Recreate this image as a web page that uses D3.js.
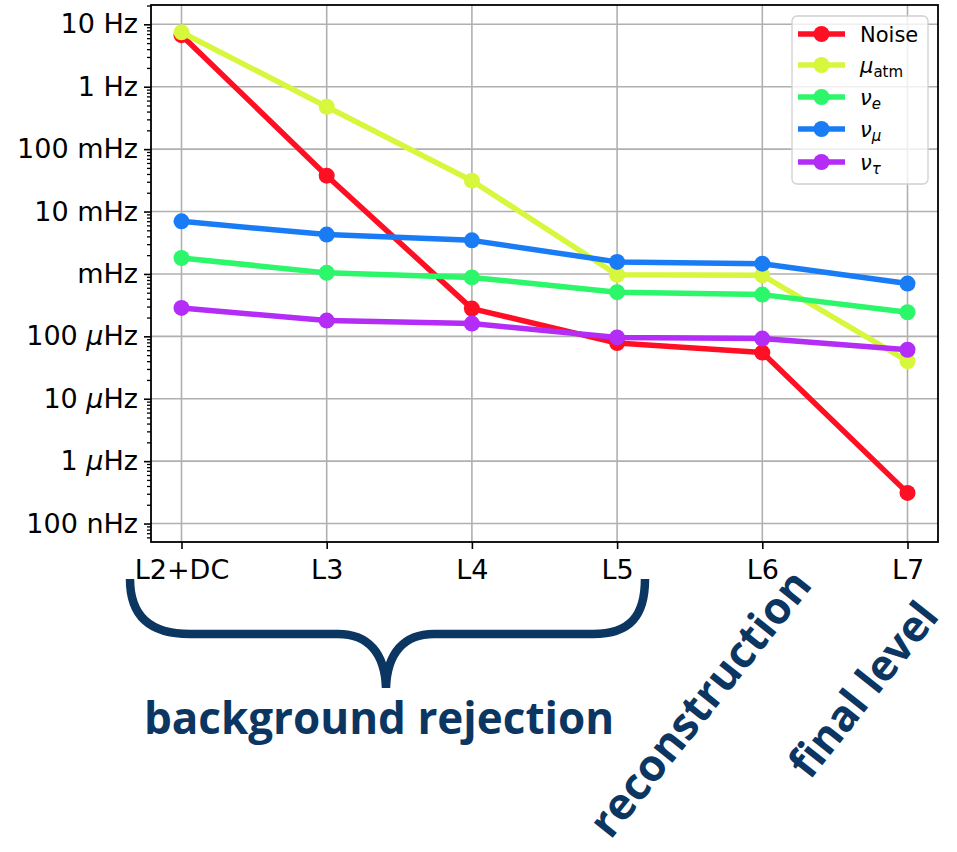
<!DOCTYPE html>
<html>
<head>
<meta charset="utf-8">
<title>Rates per level</title>
<script src="https://cdn.jsdelivr.net/npm/d3@7"></script>
<style>
  body { margin: 0; background: #fff; }
  svg { display: block; font-family: "DejaVu Sans", sans-serif; }
  .note { font-family: "Open Sans", sans-serif; font-weight: 700; fill: #0c3662; }
</style>
</head>
<body>
<script>
// data (rates in Hz)
const levels = ['L2+DC', 'L3', 'L4', 'L5', 'L6', 'L7'];
const noise = [6.7, 0.0375, 2.78e-4, 7.8e-5, 5.5e-5, 3.1e-7];
const muAtm = [7.45, 0.478, 0.0312, 9.7e-4, 9.5e-4, 4.0e-5];
const nuE = [1.80e-3, 1.04e-3, 8.8e-4, 5.1e-4, 4.66e-4, 2.43e-4];
const nuMu = [6.96e-3, 4.27e-3, 3.45e-3, 1.56e-3, 1.46e-3, 7.0e-4];
const nuTau = [2.85e-4, 1.79e-4, 1.60e-4, 9.6e-5, 9.2e-5, 6.1e-5];

const yTicks = [1e1, 1, 1e-1, 1e-2, 1e-3, 1e-4, 1e-5, 1e-6, 1e-7];
const yTickLabels = ['10 Hz', '1 Hz', '100 mHz', '10 mHz', 'mHz', '100 μHz', '10 μHz', '1 μHz', '100 nHz'];

const seriesNames = ['Noise', 'μatm', 'νe', 'νμ', 'ντ'];
const seriesColors = ['#ff0f24', '#d6f73c', '#2cf66a', '#1a7cf4', '#b32df6'];
const seriesValues = [noise, muAtm, nuE, nuMu, nuTau];

const W = 957, H = 852;
const plotL = 151, plotR = 938, plotT = 5, plotB = 542;

const svg = d3.select('body').append('svg')
  .attr('width', W)
  .attr('height', H);

const x = d3.scalePoint().domain(levels).range([plotL, plotR]).padding(0.21);
const y = d3.scaleLog().domain([5.06e-8, 20.4]).range([plotB, plotT]);

// grid
const grid = svg.append('g').attr('stroke', '#b0b0b0').attr('stroke-width', 1.6);
grid.selectAll('.gy').data(yTicks).enter().append('line')
  .attr('x1', plotL).attr('x2', plotR)
  .attr('y1', d => y(d)).attr('y2', d => y(d));
grid.selectAll('.gx').data(levels).enter().append('line')
  .attr('y1', plotT).attr('y2', plotB)
  .attr('x1', d => x(d)).attr('x2', d => x(d));

// minor ticks on the log axis
let minor = [];
for (let e = -8; e <= 1; e++) {
  for (let k = 2; k <= 9; k++) {
    let v = k * Math.pow(10, e);
    if (v > y.domain()[0] && v < y.domain()[1]) minor.push(v);
  }
}
svg.append('g')
  .attr('transform', `translate(${plotL},0)`)
  .call(d3.axisLeft(y).tickValues(minor).tickSize(4).tickFormat(''))
  .call(g => g.select('.domain').remove())
  .call(g => g.selectAll('line').attr('stroke', '#000').attr('stroke-width', 1.3));

// y axis
const yAxis = svg.append('g')
  .attr('transform', `translate(${plotL},0)`)
  .call(d3.axisLeft(y).tickValues(yTicks).tickSize(7).tickPadding(6)
    .tickFormat((d, i) => yTickLabels[i]));
yAxis.select('.domain').remove();
yAxis.selectAll('line').attr('stroke', '#000').attr('stroke-width', 1.6);
yAxis.selectAll('text')
  .attr('font-size', 27)
  .attr('font-family', '"DejaVu Sans", sans-serif')
  .attr('fill', '#000')
  .each(function(d, i) {
    let label = yTickLabels[i];
    if (label.indexOf('μ') < 0) return;
    let parts = label.split('μ');
    let t = d3.select(this).text(null);
    t.append('tspan').text(parts[0]);
    t.append('tspan').attr('font-style', 'italic').text('μ');
    t.append('tspan').text(parts[1]);
  });

// x axis
const xAxis = svg.append('g')
  .attr('transform', `translate(0,${plotB})`)
  .call(d3.axisBottom(x).tickSize(7).tickPadding(11));
xAxis.select('.domain').remove();
xAxis.selectAll('line').attr('stroke', '#000').attr('stroke-width', 1.6);
xAxis.selectAll('text')
  .attr('font-size', 27)
  .attr('font-family', '"DejaVu Sans", sans-serif')
  .attr('fill', '#000');

// series
const line = d3.line()
  .x((d, i) => x(levels[i]))
  .y(d => y(d));

seriesValues.forEach(function(values, s) {
  let g = svg.append('g');
  g.append('path')
    .datum(values)
    .attr('d', line)
    .attr('fill', 'none')
    .attr('stroke', seriesColors[s])
    .attr('stroke-width', 5.5)
    .attr('stroke-linejoin', 'round');
  g.selectAll('circle').data(values).enter().append('circle')
    .attr('cx', (d, i) => x(levels[i]))
    .attr('cy', d => y(d))
    .attr('r', 8)
    .attr('fill', seriesColors[s]);
});

// frame
svg.append('rect')
  .attr('x', plotL).attr('y', plotT)
  .attr('width', plotR - plotL).attr('height', plotB - plotT)
  .attr('fill', 'none')
  .attr('stroke', '#000')
  .attr('stroke-width', 1.8);

// legend
const legend = svg.append('g');
legend.append('rect')
  .attr('x', 792).attr('y', 16)
  .attr('width', 136).attr('height', 168)
  .attr('rx', 5)
  .attr('fill', '#fff').attr('fill-opacity', 0.8)
  .attr('stroke', '#d0d0d0').attr('stroke-width', 1.3);

const legendY = [34, 65, 97, 129, 162];
seriesNames.forEach(function(name, s) {
  let ly = legendY[s];
  legend.append('line')
    .attr('x1', 798).attr('x2', 845)
    .attr('y1', ly).attr('y2', ly)
    .attr('stroke', seriesColors[s]).attr('stroke-width', 5.5);
  legend.append('circle')
    .attr('cx', 821.5).attr('cy', ly).attr('r', 8)
    .attr('fill', seriesColors[s]);
  let t = legend.append('text')
    .attr('x', 860).attr('y', ly + 8)
    .attr('font-size', 21)
    .attr('fill', '#000');
  if (s === 0) {
    t.text(name);
  } else {
    // greek letter plus subscript, as mathtext draws it
    t.append('tspan').attr('font-style', 'italic').text(name[0]);
    t.append('tspan')
      .attr('font-size', 15)
      .attr('dy', 4)
      .attr('font-style', s === 1 ? 'normal' : 'italic')
      .text(name.slice(1));
  }
});

// annotations under the axis
svg.append('path')
  .attr('d', 'M130,579 C130,616 150,634 190,634 L338,634 C368,634 385,653 386,688 ' +
             'C387,653 404,634 434,634 L593,634 C630,634 645,616 645,579')
  .attr('fill', 'none')
  .attr('stroke', '#0c3662')
  .attr('stroke-width', 8.5);

svg.append('text')
  .attr('class', 'note')
  .attr('x', 379).attr('y', 734)
  .attr('text-anchor', 'middle')
  .attr('font-size', 44)
  .text('background rejection');

svg.append('text')
  .attr('class', 'note')
  .attr('text-anchor', 'middle')
  .attr('font-size', 44)
  .attr('transform', 'translate(712,713) rotate(-51.5)')
  .text('reconstruction');

svg.append('text')
  .attr('class', 'note')
  .attr('text-anchor', 'middle')
  .attr('font-size', 43)
  .attr('transform', 'translate(875,699) rotate(-51.5)')
  .text('final level');
</script>
</body>
</html>
